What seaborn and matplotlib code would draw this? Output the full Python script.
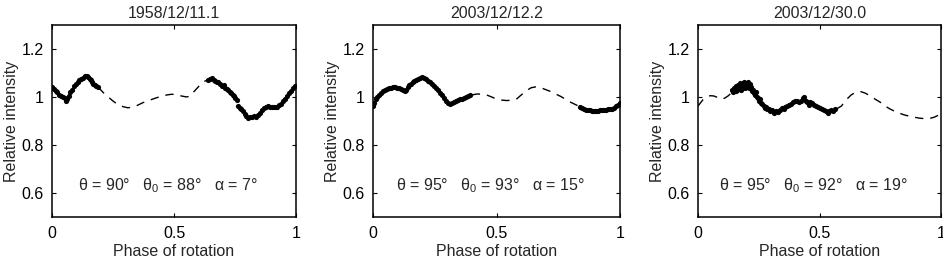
import numpy as np
import pandas as pd
import matplotlib
matplotlib.use('Agg')
import matplotlib.pyplot as plt
import seaborn as sns

# ---- data ----
titles = ['1958/12/11.1', '2003/12/12.2', '2003/12/30.0']
labels = ['θ = 90°   θ$_0$ = 88°   α = 7°',
          'θ = 95°   θ$_0$ = 93°   α = 15°',
          'θ = 95°   θ$_0$ = 92°   α = 19°']

# panel 1 observations (two stretches)
obs1_phase = [0.000, 0.008, 0.015, 0.022, 0.030, 0.038, 0.045, 0.052, 0.058, 0.062,
              0.068, 0.075, 0.082, 0.090, 0.097, 0.105, 0.112, 0.120, 0.128, 0.135,
              0.142, 0.148, 0.155, 0.160, 0.165, 0.170, 0.176, 0.182, 0.188,
              0.640, 0.648, 0.655, 0.662, 0.670, 0.676, 0.682, 0.690, 0.697, 0.703,
              0.710, 0.716, 0.722, 0.728, 0.734, 0.740, 0.746, 0.752, 0.758, 0.764,
              0.770, 0.776, 0.782, 0.790, 0.797, 0.804, 0.812, 0.820, 0.828, 0.836,
              0.844, 0.852, 0.860, 0.868, 0.876, 0.884, 0.892, 0.900, 0.908, 0.916,
              0.924, 0.932, 0.940, 0.948, 0.956, 0.964, 0.972, 0.980, 0.988, 0.996]
obs1_int = [1.040, 1.032, 1.025, 1.020, 1.010, 1.005, 0.998, 0.995, 0.985, 0.990,
            1.005, 1.020, 1.030, 1.045, 1.055, 1.063, 1.070, 1.075, 1.080, 1.086,
            1.088, 1.083, 1.076, 1.072, 1.062, 1.055, 1.050, 1.045, 1.040,
            1.072, 1.076, 1.078, 1.072, 1.066, 1.060, 1.062, 1.055, 1.046, 1.050,
            1.038, 1.032, 1.028, 1.022, 1.015, 1.010, 1.002, 0.995, 0.988, 0.962,
            0.955, 0.948, 0.940, 0.930, 0.922, 0.912, 0.918, 0.915, 0.920, 0.918,
            0.925, 0.935, 0.945, 0.955, 0.960, 0.962, 0.958, 0.960, 0.957, 0.958,
            0.960, 0.966, 0.972, 0.982, 0.992, 1.005, 1.015, 1.025, 1.035, 1.045]

# panel 1 model curve (visible part)
mod1_phase = [0.190, 0.210, 0.230, 0.250, 0.270, 0.290, 0.310, 0.330, 0.350, 0.370,
              0.390, 0.410, 0.430, 0.450, 0.470, 0.490, 0.510, 0.530, 0.550, 0.565,
              0.580, 0.600, 0.620, 0.640]
mod1_int = [1.040, 1.018, 1.000, 0.983, 0.968, 0.960, 0.955, 0.957, 0.965, 0.975,
            0.983, 0.990, 0.997, 1.003, 1.008, 1.011, 1.010, 1.004, 1.000, 1.002,
            1.020, 1.042, 1.062, 1.072]
mod1_seg = [0] * len(mod1_phase)

# panel 2 observations
obs2_phase = [0.000, 0.006, 0.012, 0.018, 0.025, 0.032, 0.040, 0.048, 0.056, 0.064,
              0.072, 0.080, 0.088, 0.096, 0.104, 0.112, 0.120, 0.128, 0.134, 0.140,
              0.146, 0.152, 0.160, 0.168, 0.176, 0.184, 0.192, 0.200, 0.208, 0.216,
              0.224, 0.232, 0.240, 0.248, 0.256, 0.264, 0.272, 0.280, 0.288, 0.296,
              0.304, 0.312, 0.320, 0.328, 0.336, 0.344, 0.352, 0.360, 0.368, 0.376,
              0.384, 0.392,
              0.840, 0.848, 0.856, 0.864, 0.872, 0.880, 0.888, 0.896, 0.904, 0.912,
              0.920, 0.928, 0.936, 0.944, 0.952, 0.960, 0.968, 0.976, 0.984, 0.992,
              1.000]
obs2_int = [0.962, 0.975, 0.990, 1.000, 1.010, 1.018, 1.024, 1.030, 1.033, 1.036,
            1.038, 1.042, 1.041, 1.038, 1.036, 1.032, 1.027, 1.024, 1.030, 1.042,
            1.050, 1.055, 1.062, 1.068, 1.072, 1.076, 1.080, 1.081, 1.079, 1.074,
            1.067, 1.060, 1.052, 1.045, 1.036, 1.028, 1.018, 1.008, 0.996, 0.985,
            0.975, 0.972, 0.974, 0.978, 0.982, 0.986, 0.990, 0.993, 0.997, 1.000,
            1.003, 1.006,
            0.958, 0.952, 0.948, 0.946, 0.945, 0.944, 0.943, 0.942, 0.942, 0.943,
            0.944, 0.945, 0.946, 0.947, 0.948, 0.950, 0.948, 0.955, 0.962, 0.968,
            0.975]

mod2_phase = [0.400, 0.420, 0.440, 0.460, 0.480, 0.500, 0.520, 0.540, 0.560, 0.580,
              0.600, 0.620, 0.640, 0.660, 0.680, 0.700, 0.720, 0.740, 0.760, 0.780,
              0.800, 0.820, 0.840, 0.850]
mod2_int = [1.008, 1.012, 1.012, 1.008, 1.000, 0.991, 0.987, 0.985, 0.986, 0.990,
            1.008, 1.025, 1.038, 1.042, 1.038, 1.030, 1.022, 1.012, 1.002, 0.990,
            0.978, 0.968, 0.958, 0.955]
mod2_seg = [0] * len(mod2_phase)

# panel 3 observations (scattered)
obs3_phase = [0.140, 0.145, 0.150, 0.155, 0.158, 0.162, 0.166, 0.170, 0.173, 0.177,
              0.180, 0.184, 0.188, 0.192, 0.196, 0.200, 0.204, 0.208, 0.212, 0.216,
              0.220, 0.224, 0.228, 0.232, 0.236, 0.240, 0.244, 0.248, 0.252, 0.256,
              0.260, 0.265, 0.270, 0.275, 0.280, 0.286, 0.292, 0.298, 0.305, 0.312,
              0.320, 0.328, 0.336, 0.344, 0.352, 0.360, 0.368, 0.376, 0.384, 0.392,
              0.400, 0.408, 0.416, 0.424, 0.432, 0.438, 0.444, 0.450, 0.456, 0.462,
              0.470, 0.478, 0.486, 0.494, 0.502, 0.510, 0.518, 0.526, 0.534, 0.540,
              0.548, 0.556, 0.564]
obs3_int = [1.030, 1.022, 1.035, 1.025, 1.045, 1.030, 1.050, 1.040, 1.058, 1.030,
            1.055, 1.045, 1.060, 1.038, 1.055, 1.048, 1.060, 1.035, 1.055, 1.045,
            1.040, 1.025, 1.030, 1.018, 1.010, 1.020, 1.000, 0.995, 0.985, 0.990,
            0.975, 0.970, 0.962, 0.955, 0.960, 0.948, 0.950, 0.942, 0.945, 0.935,
            0.940, 0.938, 0.945, 0.952, 0.950, 0.958, 0.962, 0.968, 0.972, 0.980,
            0.985, 0.982, 0.978, 0.985, 0.995, 1.000, 0.985, 0.978, 0.965, 0.980,
            0.975, 0.968, 0.962, 0.958, 0.952, 0.950, 0.946, 0.942, 0.935, 0.940,
            0.945, 0.942, 0.948]

mod3_phase = [0.000, 0.010, 0.020, 0.036, 0.050, 0.065, 0.080, 0.095, 0.110, 0.125,
              0.140,
              0.570, 0.590, 0.610, 0.630, 0.650, 0.670, 0.690, 0.710, 0.730, 0.750,
              0.770, 0.790, 0.810, 0.830, 0.850, 0.870, 0.890, 0.910, 0.930, 0.950,
              0.970, 0.985, 1.000]
mod3_int = [0.962, 0.975, 0.988, 1.000, 1.005, 1.004, 0.998, 0.990, 0.995, 1.005,
            1.020,
            0.950, 0.962, 0.988, 1.008, 1.020, 1.022, 1.015, 1.003, 0.990, 0.978,
            0.962, 0.950, 0.940, 0.932, 0.925, 0.920, 0.916, 0.912, 0.910, 0.910,
            0.915, 0.922, 0.930]
mod3_seg = [0] * 11 + [1] * 23

panels = [
    (obs1_phase, obs1_int, mod1_phase, mod1_int, mod1_seg),
    (obs2_phase, obs2_int, mod2_phase, mod2_int, mod2_seg),
    (obs3_phase, obs3_int, mod3_phase, mod3_int, mod3_seg),
]

# ---- style ----
FS = 11.5
sns.set_style('ticks')
plt.rcParams['font.family'] = ['Liberation Sans', 'DejaVu Sans']
plt.rcParams['font.size'] = FS
plt.rcParams['mathtext.fontset'] = 'custom'
plt.rcParams['mathtext.rm'] = 'Liberation Sans'
plt.rcParams['mathtext.it'] = 'Liberation Sans'
plt.rcParams['axes.linewidth'] = 1.1
plt.rcParams['axes.edgecolor'] = 'black'

fig = plt.figure(figsize=(9.43, 2.6), dpi=100)
boxes = [
    [52 / 943, 0.1638, 244 / 943, 0.7415],
    [373 / 943, 0.1638, 247 / 943, 0.7415],
    [698 / 943, 0.1638, 243 / 943, 0.7415],
]

for i, (op, oi, mp, mi, ms) in enumerate(panels):
    ax = fig.add_axes(boxes[i])
    mod_df = pd.DataFrame({'phase': mp, 'intensity': mi, 'seg': ms})
    sns.lineplot(data=mod_df, x='phase', y='intensity', units='seg', estimator=None,
                 sort=False, color='black', linewidth=1.0, linestyle=(0, (6, 5)), ax=ax)
    sns.scatterplot(x=op, y=oi, s=14, color='black', linewidth=0, ax=ax, zorder=3)

    ax.set_xlim(0, 1)
    ax.set_ylim(0.5, 1.3)
    ax.set_xticks([0, 0.5, 1])
    ax.set_xticklabels(['0', '0.5', '1'])
    ax.set_yticks([0.6, 0.8, 1.0, 1.2])
    ax.set_yticklabels(['0.6', '0.8', '1', '1.2'])
    ax.tick_params(direction='in', length=3, width=0.8, top=True, right=True,
                   labelsize=FS, pad=6, colors='black')
    for sp in ax.spines.values():
        sp.set_visible(True)
        sp.set_color('black')
    ax.set_xlabel('Phase of rotation', fontsize=FS, labelpad=2)
    ax.set_ylabel('Relative intensity', fontsize=FS, labelpad=2)
    ax.set_title(titles[i], fontsize=FS, pad=5)
    ax.text(0.475, 0.63, labels[i], transform=ax.get_yaxis_transform(),
            ha='center', va='center', fontsize=FS)

fig.savefig('out.png', dpi=100)
